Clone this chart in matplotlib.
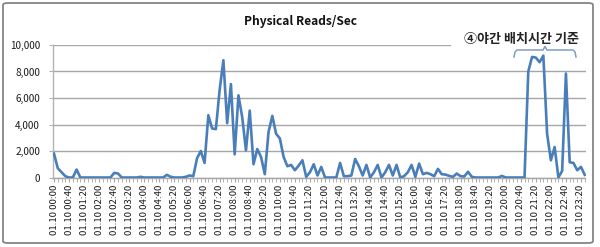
import matplotlib
matplotlib.use("Agg")
import matplotlib.pyplot as plt
from matplotlib.lines import Line2D
from matplotlib.patches import Rectangle, FancyBboxPatch
from matplotlib.ticker import FuncFormatter, FixedLocator

plt.rcParams['font.family'] = ['Noto Sans CJK KR', 'DejaVu Sans']

title = "Physical Reads/Sec"
annotation_text = "④야간 배치시간 기준"

# 10-minute categories from 01.10 00:00 to 01.10 23:30
categories = ["01.10 %02d:%02d" % (m // 60, m % 60) for m in range(0, 1420, 10)]

reads_per_sec = [
    1800, 700, 400, 100, 0, 0, 600, 0, 0, 0,
    0, 0, 0, 0, 0, 0, 350, 300, 0, 0,
    0, 0, 0, 50, 0, 0, 0, 0, 0, 0,
    200, 50, 0, 0, 0, 50, 150, 100, 1450, 2000,
    1100, 4700, 3700, 3650, 6600, 8850, 4100, 7050, 1750, 6200,
    4550, 2050, 5050, 1000, 2150, 1550, 250, 3450, 4650, 3300,
    2950, 1550, 850, 950, 550, 900, 1300, 50, 400, 1000,
    150, 800, 0, 0, 0, 0, 1100, 100, 100, 150,
    1400, 850, 150, 950, 0, 400, 950, 0, 400, 950,
    150, 950, 0, 100, 400, 950, 50, 1050, 250, 350,
    250, 100, 650, 250, 220, 120, 50, 300, 100, 80,
    430, 50, 0, 0, 0, 0, 0, 0, 0, 120,
    0, 0, 0, 0, 0, 0, 8000, 9100, 9050, 8700,
    9200, 3300, 1300, 2300, 0, 500, 7850, 1150, 1100, 550,
    800, 200,
]

y_ticks = [0, 2000, 4000, 6000, 8000, 10000]
label_step = 4

W, H = 600, 247
fig = plt.figure(figsize=(W / 100, H / 100), dpi=100)

def fx(x):
    return x / W

def fy(y):
    return 1 - y / H

left_px, right_px, top_px, bottom_px = 52.5, 585.5, 45.0, 177.5
ax = fig.add_axes([fx(left_px), fy(bottom_px), fx(right_px) - fx(left_px), (bottom_px - top_px) / H])

x = list(range(len(reads_per_sec)))
ax.plot(x, reads_per_sec, color="#4a7ebb", lw=1.9, solid_joinstyle="round", zorder=3)

ax.set_xlim(-0.4, len(x) - 1 + 0.2)
ax.set_ylim(y_ticks[0], y_ticks[-1])
ax.set_yticks(y_ticks)
ax.yaxis.set_major_formatter(FuncFormatter(lambda v, p: f"{int(v):,}"))
ax.grid(axis="y", color="#a6a6a6", lw=1.0)
ax.set_axisbelow(True)

for s in ["top", "right"]:
    ax.spines[s].set_visible(False)
ax.spines["left"].set_color("#b3b3b3")
ax.spines["bottom"].set_color("#a6a6a6")
ax.spines["left"].set_linewidth(1.0)
ax.spines["bottom"].set_linewidth(1.0)

ax.tick_params(axis="y", length=3, color="#b3b3b3", labelsize=7.2, pad=6, labelcolor="#1a1a1a")
major_pos = x[::label_step]
ax.xaxis.set_major_locator(FixedLocator(major_pos))
ax.set_xticklabels(categories[::label_step], rotation=90, fontsize=6.9, color="#1a1a1a")
ax.xaxis.set_minor_locator(FixedLocator(x))
ax.tick_params(axis="x", which="both", length=3, color="#a6a6a6", pad=2)

# title
fig.text(0.5, fy(21), title, ha="center", va="center", fontsize=8.6, fontweight="bold", color="#111111")

# white box hiding the top gridline under the annotation
fig.add_artist(Rectangle((fx(451), fy(46.5)), fx(592) - fx(451), (46.5 - 28) / H,
                         transform=fig.transFigure, facecolor="white", edgecolor="none", zorder=4))
fig.text(fx(522), fy(38.5), annotation_text, ha="center", va="center", fontsize=9.4,
         fontweight="bold", color="#222222", zorder=5)

# bracket
bx = [514, 515, 517, 543, 545, 547, 573, 575, 576]
by = [57, 52, 50, 50, 46.5, 50, 50, 52, 57]
fig.add_artist(Line2D([fx(v) for v in bx], [fy(v) for v in by], transform=fig.transFigure,
                      color="#7f9cc8", lw=1.1, zorder=5))

# outer chart border
fig.add_artist(FancyBboxPatch((fx(3), fy(243)), fx(593) - fx(3), (243 - 3) / H,
                              boxstyle="round,pad=0,rounding_size=0.008",
                              transform=fig.transFigure, facecolor="none",
                              edgecolor="#858585", lw=1.3, zorder=6))

fig.savefig("out.png", dpi=100)
